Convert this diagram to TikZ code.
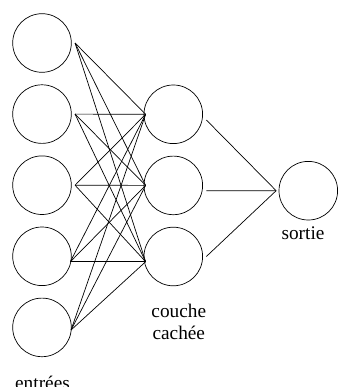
\documentclass[tikz,border=0pt]{standalone}
\usepackage{fontspec}
\setmainfont{Liberation Serif}
\usetikzlibrary{positioning}

\begin{document}
\begin{tikzpicture}[
    x=1pt, y=-1pt,
    node distance=71.1pt,
    neurone/.style={circle, draw, line width=0.7pt, minimum size=58.6pt, inner sep=0pt},
    etiquette/.style={font=\fontsize{19.3}{22}\selectfont, inner sep=0pt, anchor=base},
    every path/.style={line width=0.7pt}
]
\useasboundingbox (0,0) rectangle (337,387);

% entrees
\node[neurone] (e1) at (42,43) {};
\node[neurone] (e2) [below of=e1] {};
\node[neurone] (e3) [below of=e2] {};
\node[neurone] (e4) [below of=e3] {};
\node[neurone] (e5) [below of=e4] {};

% couche cachee
\node[neurone] (c1) at (173.3,114.3) {};
\node[neurone] (c2) [below of=c1] {};
\node[neurone] (c3) [below of=c2] {};

% sortie
\node[neurone] (s) at (308.3,190.7) {};

\node[etiquette] (le) at (42.5,389) {entrées};
\node[etiquette] (lc1) at (178.8,317.3) {couche};
\node[etiquette] (lc2) at (178.8,339.3) {cachée};
\node[etiquette] (ls) at (303,239.3) {sortie};

% points de connexion
\coordinate (e1o) at ([xshift=3.4pt]e1.east);
\coordinate (e2o) at ([xshift=3.4pt]e2.east);
\coordinate (e3o) at ([xshift=3.4pt]e3.east);
\coordinate (e4o) at ([xshift=-1.3pt,yshift=-5.4pt]e4.east);
\coordinate (e5o) at ([xshift=-0.6pt,yshift=-2.6pt]e5.east);
\coordinate (c1i) at ([xshift=2pt]c1.west);
\coordinate (c2i) at ([xshift=2pt]c2.west);
\coordinate (c3i) at ([xshift=2pt,yshift=-5.2pt]c3.west);
\coordinate (c1o) at ([xshift=3.4pt,yshift=-5.7pt]c1.east);
\coordinate (c2o) at ([xshift=3.4pt,yshift=-5.3pt]c2.east);
\coordinate (c3o) at ([xshift=3.4pt]c3.east);
\coordinate (si) at ([xshift=-2.5pt]s.west);

\foreach \i in {1,...,5}
  \foreach \j in {1,2,3}
    \draw (e\i o) -- (c\j i);
\foreach \j in {1,2,3}
  \draw (c\j o) -- (si);
\end{tikzpicture}
\end{document}
